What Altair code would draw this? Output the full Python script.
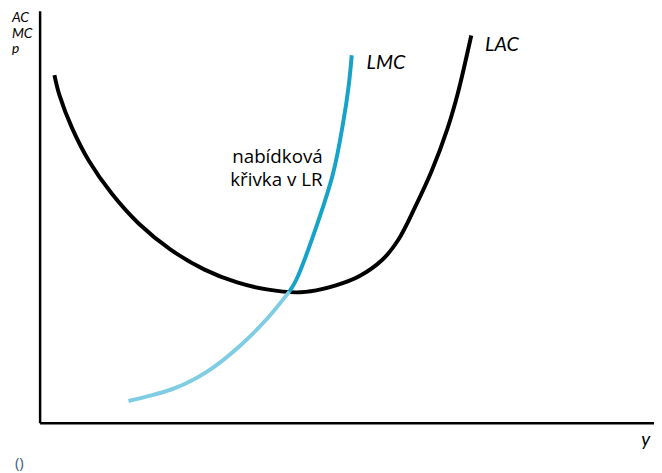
import altair as alt
import pandas as pd

# Curves (x: quantity units from the origin, y: cost units from the origin)
lac_x = [15, 20, 33, 50, 73, 100, 133, 167, 200, 230, 260, 280, 300, 323, 347, 363, 380, 397, 413, 423, 437]
lac_y = [352, 332, 298, 265, 232, 202, 175, 155, 142, 135, 132, 134, 139, 148, 165, 185, 218, 255, 298, 332, 392]

lmc_low_x = [90, 137, 170, 203, 230, 253]
lmc_low_y = [22, 35, 52, 78, 105, 133]
lmc_up_x = [253, 260, 280, 297, 307, 313, 316]
lmc_up_y = [133, 145, 198, 252, 302, 342, 372]

curves = pd.concat([
    pd.DataFrame({"x": lac_x, "y": lac_y, "s": "LAC", "o": range(len(lac_x))}),
    pd.DataFrame({"x": lmc_low_x, "y": lmc_low_y, "s": "LMC_low", "o": range(len(lmc_low_x))}),
    pd.DataFrame({"x": lmc_up_x, "y": lmc_up_y, "s": "LMC_up", "o": range(len(lmc_up_x))}),
])

xs = alt.Scale(domain=[0, 622], nice=False, zero=False)
ys = alt.Scale(domain=[0, 417], nice=False, zero=False)
noaxis = alt.Axis(title=None, labels=False, ticks=False, grid=False,
                  domain=True, domainColor="black", domainWidth=2.5)

lines = alt.Chart(curves).mark_line(strokeWidth=4, interpolate="catmull-rom", strokeCap="butt").encode(
    x=alt.X("x:Q", scale=xs, axis=noaxis),
    y=alt.Y("y:Q", scale=ys, axis=noaxis),
    color=alt.Color("s:N", scale=alt.Scale(domain=["LAC", "LMC_low", "LMC_up"],
                                           range=["#000000", "#7fcde3", "#15a3c9"]), legend=None),
    order="o:Q",
    detail="s:N",
)

def label(texts, x, y, size, font, style="normal", color="black"):
    df = pd.DataFrame({"t": texts, "x": x, "y": y})
    return alt.Chart(df).mark_text(align="left", baseline="alphabetic", fontSize=size,
                                   font=font, fontStyle=style, color=color).encode(
        x=alt.X("x:Q", scale=xs), y=alt.Y("y:Q", scale=ys), text="t:N")

axis_titles = label(["AC", "MC", "p"], [-28, -28, -28], [406, 390, 374], 14, "Lato", "italic")
curve_names = label(["LMC", "LAC"], [331, 451], [358, 376], 20, "Lato", "italic")
y_title = label(["y"], [609], [-24], 19, "Lato", "italic")
empty = label(["()"], [-25], [-46], 15, "Noto Sans", "normal", "#4a6382")
note = label(["nabídková", "křivka v LR"], [195, 193], [263, 240], 19, "Open Sans")

chart = alt.layer(lines, axis_titles, curve_names, y_title, empty, note).properties(
    width=622, height=417,
    autosize=alt.AutoSizeParams(type="none"),
    padding={"left": 32, "top": 0, "right": 0, "bottom": 48},
).configure_view(stroke=None)

chart.save("out.html", embed_options={"renderer": "svg", "actions": False})
